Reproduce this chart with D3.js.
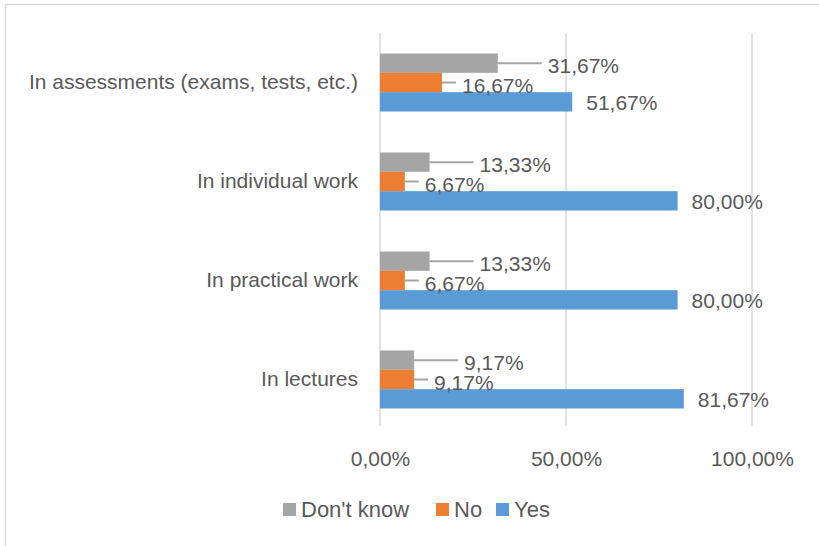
<!DOCTYPE html>
<html>
<head>
<meta charset="utf-8">
<script src="https://cdn.jsdelivr.net/npm/d3@7"></script>
<style>
	body { margin: 0; background: #fff; }
	text { font-family: "Liberation Sans", Arial, sans-serif; fill: #595959; }
</style>
</head>
<body>
<div class="chart"></div>
<script>
// categories top to bottom
var categories = ["In assessments (exams, tests, etc.)", "In individual work", "In practical work", "In lectures"];
var seriesNames = ["Don't know", "No", "Yes"];
var dontKnow = [31.67, 13.33, 13.33, 9.17];
var no = [16.67, 6.67, 6.67, 9.17];
var yes = [51.67, 80.00, 80.00, 81.67];
var xTicks = [0, 50, 100];

var w = 819, h = 546;
var colors = { "Don't know": "#a5a5a5", "No": "#ed7d31", "Yes": "#5b9bd5" };
var fontSize = 21;

var locale = d3.formatLocale({ decimal: ",", thousands: ".", grouping: [3], currency: ["", ""] });
var fmt = function (v) { return locale.format(".2f")(v) + "%"; };

var rows = categories.map(function (c, i) {
	return { cat: c, values: [
		{ key: "Don't know", v: dontKnow[i] },
		{ key: "No", v: no[i] },
		{ key: "Yes", v: yes[i] }
	] };
});

var svg = d3.select(".chart").append("svg")
	.attr("width", w)
	.attr("height", h);

// outer border
svg.append("rect")
	.attr("x", 5.5).attr("y", 4.5)
	.attr("width", w + 10).attr("height", h + 10)
	.attr("fill", "none")
	.attr("stroke", "#d9d9d9")
	.attr("stroke-width", 1.5);

var x = d3.scaleLinear().domain([0, 100]).range([380, 752]);
var y0 = d3.scaleBand().domain(categories).range([33, 429]).paddingInner(0.414).paddingOuter(0.207);
var y1 = d3.scaleBand().domain(seriesNames).range([0, y0.bandwidth()]);

// gridlines
svg.append("g").selectAll("line")
	.data(xTicks)
	.enter().append("line")
	.attr("x1", function (d) { return x(d); })
	.attr("x2", function (d) { return x(d); })
	.attr("y1", 33).attr("y2", 426)
	.attr("stroke", "#d9d9d9")
	.attr("stroke-width", 1.5);

// x axis labels
var xAxis = d3.axisBottom(x).tickValues(xTicks).tickSize(0).tickPadding(0)
	.tickFormat(fmt);
var gx = svg.append("g").attr("transform", "translate(0,451)").call(xAxis);
gx.select(".domain").remove();
gx.selectAll("text").attr("font-size", fontSize).attr("fill", "#595959")
	.style("font-family", "Liberation Sans, Arial, sans-serif");

// category labels
var yAxis = d3.axisLeft(y0).tickSize(0).tickPadding(22);
var gy = svg.append("g").attr("transform", "translate(380,0)").call(yAxis);
gy.select(".domain").remove();
gy.selectAll("text").attr("font-size", fontSize).attr("fill", "#595959")
	.style("font-family", "Liberation Sans, Arial, sans-serif");

var groups = svg.append("g").selectAll("g")
	.data(rows)
	.enter().append("g")
	.attr("transform", function (d) { return "translate(0," + y0(d.cat) + ")"; });

// label offsets per series (Excel moved labels)
var labelGap = { "Don't know": 50, "No": 20, "Yes": 14 };
var labelDy = { "Don't know": 2, "No": 3, "Yes": 1 };

// leader lines
groups.selectAll("line.leader")
	.data(function (d) { return d.values.filter(function (v) { return v.key != "Yes"; }); })
	.enter().append("line")
	.attr("class", "leader")
	.attr("x1", function (d) { return x(d.v); })
	.attr("x2", function (d) { return x(d.v) + labelGap[d.key] - 6; })
	.attr("y1", function (d) { return y1(d.key) + y1.bandwidth() / 2; })
	.attr("y2", function (d) { return y1(d.key) + y1.bandwidth() / 2; })
	.attr("stroke", "#a5a5a5")
	.attr("stroke-width", 2);

groups.selectAll("rect")
	.data(function (d) { return d.values; })
	.enter().append("rect")
	.attr("x", x(0))
	.attr("y", function (d) { return y1(d.key); })
	.attr("width", function (d) { return x(d.v) - x(0); })
	.attr("height", y1.bandwidth())
	.attr("fill", function (d) { return colors[d.key]; });

groups.selectAll("text.lbl")
	.data(function (d) { return d.values; })
	.enter().append("text")
	.attr("class", "lbl")
	.attr("x", function (d) { return x(d.v) + labelGap[d.key]; })
	.attr("y", function (d) { return y1(d.key) + y1.bandwidth() / 2 + labelDy[d.key]; })
	.attr("dy", "0.35em")
	.attr("font-size", fontSize)
	.text(function (d) { return fmt(d.v); });

// legend
var legendX = [283, 436, 496];
var legend = svg.append("g").selectAll("g")
	.data(seriesNames)
	.enter().append("g")
	.attr("transform", function (d, i) { return "translate(" + legendX[i] + ",503)"; });
legend.append("rect")
	.attr("width", 13).attr("height", 13)
	.attr("fill", function (d) { return colors[d]; });
legend.append("text")
	.attr("x", 18).attr("y", 6.5).attr("dy", "0.35em")
	.attr("font-size", 22)
	.text(function (d) { return d; });
</script>
</body>
</html>
